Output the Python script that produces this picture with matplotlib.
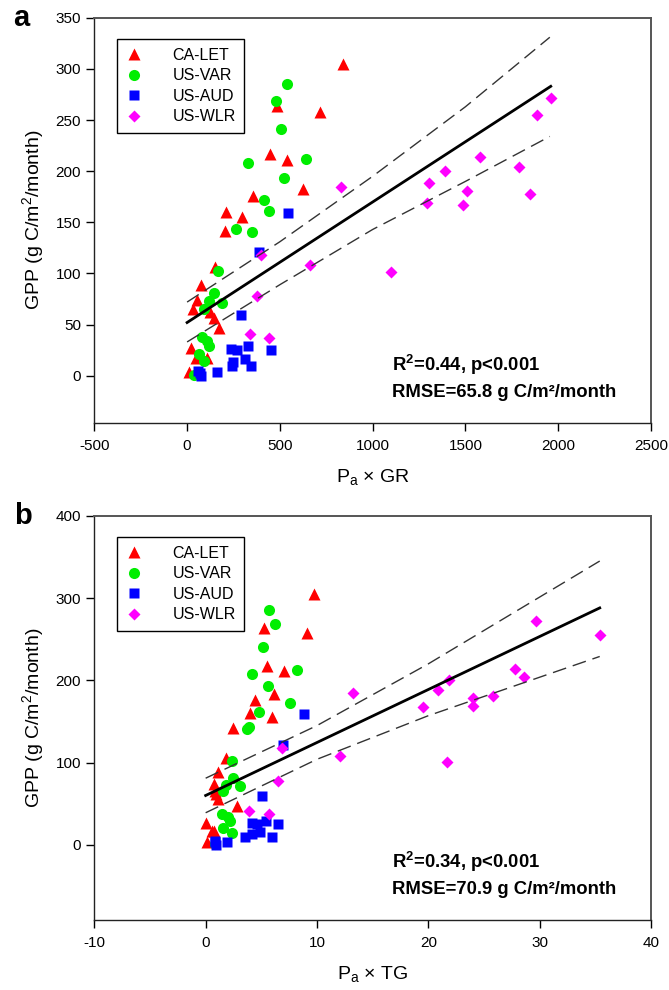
import matplotlib
matplotlib.use('Agg')
import matplotlib.pyplot as plt

plt.rcParams['font.family'] = ['Liberation Sans', 'DejaVu Sans']
plt.rcParams['mathtext.fontset'] = 'custom'
plt.rcParams['mathtext.rm'] = 'Liberation Sans'
plt.rcParams['axes.unicode_minus'] = False

# ------------------------- data -------------------------
# GPP is shared by both panels, x differs (Pa x GR for a, Pa x TG for b)
let_gpp = [305, 264, 258, 217, 211, 183, 176, 160, 155, 142, 106, 89, 74, 65, 62, 56, 47, 27, 17, 17, 4]
let_gr = [840, 487, 715, 449, 541, 625, 353, 211, 294, 204, 152, 75, 56, 30, 125, 143, 173, 22, 47, 105, 8]
let_tg = [9.74, 5.2, 9.08, 5.49, 7.04, 6.15, 4.4, 4.0, 6.0, 2.49, 1.85, 1.14, 0.72, 0.8, 0.95, 1.1, 2.82, 0.07, 0.6, 0.75, 0.08]

var_gpp = [285, 269, 241, 208, 212, 193, 172, 161, 143, 141, 102, 81, 73, 71, 65, 38, 34, 29, 21, 14, 1]
var_gr = [539, 481, 508, 328, 643, 523, 415, 442, 265, 352, 169, 145, 116, 186, 89, 80, 107, 116, 62, 89, 35]
var_tg = [5.67, 6.24, 5.19, 4.14, 8.18, 5.6, 7.55, 4.83, 3.85, 3.75, 2.34, 2.49, 1.8, 3.06, 1.6, 1.45, 2.04, 2.19, 1.59, 2.34, 0.84]

aud_gpp = [159, 121, 59, 26, 25, 29, 25, 13, 16, 9, 9, 4, 3, 5, 0]
aud_gr = [542, 385, 291, 237, 269, 327, 452, 249, 314, 242, 346, 161, 71, 60, 75]
aud_tg = [8.85, 6.93, 5.04, 4.14, 4.6, 5.4, 6.53, 4.2, 4.9, 3.5, 5.94, 1.9, 0.85, 0.8, 0.95]

wlr_gpp = [185, 118, 108, 101, 78, 41, 37, 272, 255, 214, 200, 204, 188, 181, 169, 167, 178]
wlr_gr = [827, 398, 665, 1098, 377, 341, 440, 1964, 1885, 1576, 1388, 1790, 1302, 1507, 1291, 1487, 1849]
wlr_tg = [13.2, 6.84, 12.08, 21.7, 6.48, 3.93, 5.72, 29.7, 35.4, 27.8, 21.9, 28.6, 20.9, 25.8, 24.0, 19.5, 24.0]

# regression line and 95% band, panel a
fit_a_x = [0, 1960]
fit_a_y = [52, 283]
band_a_x = [0, 500, 1000, 1500, 1955]
band_a_hi = [72, 131, 195, 263, 331]
band_a_lo = [33, 89, 143, 190, 234]

# regression line and 95% band, panel b
fit_b_x = [0, 35.4]
fit_b_y = [60, 288]
band_b_x = [0, 10, 20, 35.4]
band_b_hi = [81, 145, 220, 345]
band_b_lo = [39, 104, 157, 229]

sites = ['CA-LET', 'US-VAR', 'US-AUD', 'US-WLR']
markers = ['^', 'o', 's', 'D']
colors = ['#ff0000', '#00ee00', '#0000ff', '#ff00ff']
msizes = [8, 8, 7, 6.5]


def draw_panel(ax, xs, fit_x, fit_y, band_x, band_hi, band_lo, stats, letter):
    ys = [let_gpp, var_gpp, aud_gpp, wlr_gpp]
    for x, y, name, m, c, s in zip(xs, ys, sites, markers, colors, msizes):
        ax.plot(x, y, linestyle='none', marker=m, ms=s, color=c, mec='none', label=name, zorder=3)

    ax.plot(fit_x, fit_y, color='black', lw=2, zorder=4)
    ax.plot(band_x, band_hi, color='#333333', lw=1, dashes=(10, 5), zorder=4)
    ax.plot(band_x, band_lo, color='#333333', lw=1, dashes=(10, 5), zorder=4)

    leg = ax.legend(loc='upper left', bbox_to_anchor=(0.041, 0.948), borderaxespad=0,
                    fancybox=False, edgecolor='black', framealpha=1, fontsize=11.5,
                    handlelength=1.0, handletextpad=1.9, borderpad=0.55, labelspacing=0.35)
    leg.get_frame().set_linewidth(1.0)

    ax.text(0.534, 0.142, stats[0], transform=ax.transAxes, fontsize=13.3,
            fontweight='bold', va='center', ha='left')
    ax.text(0.534, 0.075, stats[1], transform=ax.transAxes, fontsize=13.3,
            fontweight='bold', va='center', ha='left')

    ax.set_ylabel('GPP (g C/m$^\\mathregular{2}$/month)', fontsize=14, labelpad=6)
    ax.text(-0.145, 1.0, letter, transform=ax.transAxes, fontsize=21,
            fontweight='bold', va='center', ha='left')

    ax.tick_params(direction='out', length=6, width=1, labelsize=11, top=False, right=False)
    ax.tick_params(axis='x', pad=6)
    for side in ['left', 'bottom']:
        ax.spines[side].set_color('#222222')
        ax.spines[side].set_linewidth(1)
    for side in ['top', 'right']:
        ax.spines[side].set_color('#555555')
        ax.spines[side].set_linewidth(1.4)


fig = plt.figure(figsize=(6.69, 9.90), dpi=100)

ax_a = fig.add_axes([0.141, 0.573, 0.832, 0.409])
draw_panel(ax_a, [let_gr, var_gr, aud_gr, wlr_gr], fit_a_x, fit_a_y,
           band_a_x, band_a_hi, band_a_lo,
           ['R$^\\mathregular{2}$=0.44, p<0.001', 'RMSE=65.8 g C/m²/month'], 'a')
ax_a.set_xlim(-500, 2500)
ax_a.set_ylim(-46, 350)
ax_a.set_xticks(range(-500, 2501, 500))
ax_a.set_yticks(range(0, 351, 50))
ax_a.set_xlabel('P$_\\mathregular{a}$ × GR', fontsize=14, labelpad=10)

ax_b = fig.add_axes([0.141, 0.071, 0.832, 0.408])
draw_panel(ax_b, [let_tg, var_tg, aud_tg, wlr_tg], fit_b_x, fit_b_y,
           band_b_x, band_b_hi, band_b_lo,
           ['R$^\\mathregular{2}$=0.34, p<0.001', 'RMSE=70.9 g C/m²/month'], 'b')
ax_b.set_xlim(-10, 40)
ax_b.set_ylim(-91, 400)
ax_b.set_xticks(range(-10, 41, 10))
ax_b.set_yticks(range(0, 401, 100))
ax_b.set_xlabel('P$_\\mathregular{a}$ × TG', fontsize=14, labelpad=10)

fig.savefig('out.png', dpi=100)
